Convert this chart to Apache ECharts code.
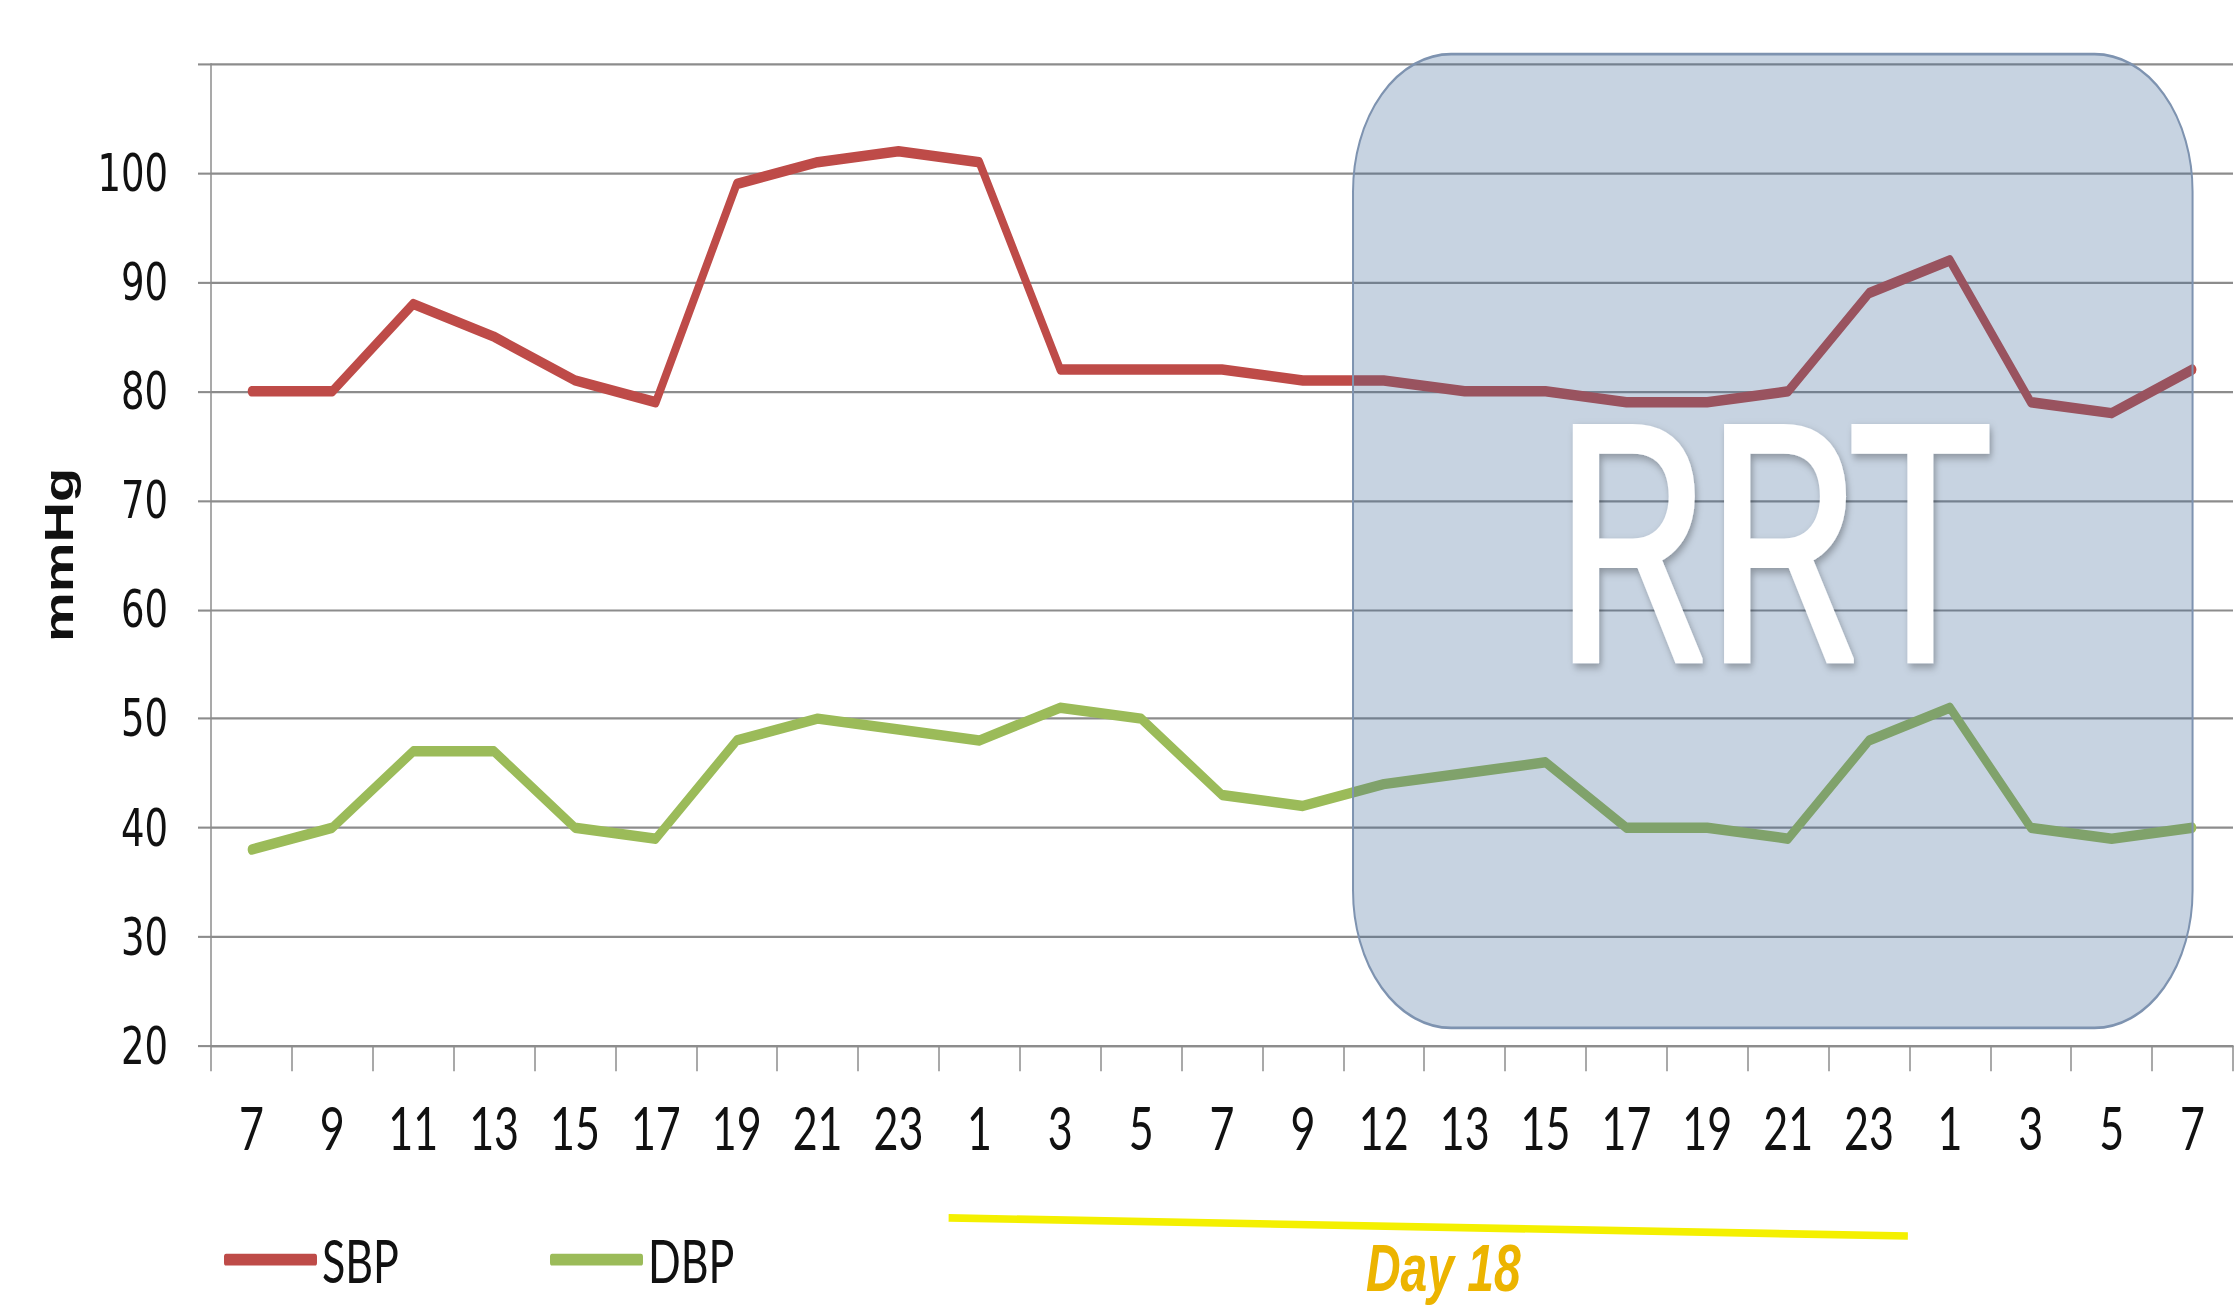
<!DOCTYPE html>
<html>
<head>
<meta charset="utf-8">
<script src="https://cdn.jsdelivr.net/npm/echarts@6/dist/echarts.min.js"></script>
<style>
  html, body { margin: 0; padding: 0; background: #ffffff; overflow: hidden; }
  #stage { width: 2238px; height: 1308px; overflow: hidden; position: relative; }
  /* the chart is laid out on a shorter canvas and stretched vertically */
  #chart { width: 2238px; height: 934px; transform: scaleY(1.4004); transform-origin: 0 0; }
</style>
</head>
<body>
<div id="stage"><div id="chart"></div></div>
<script>
// hourly readings over three calendar days
const hours = ['7', '9', '11', '13', '15', '17', '19', '21', '23', '1', '3', '5', '7',
               '9', '12', '13', '15', '17', '19', '21', '23', '1', '3', '5', '7'];

// systolic blood pressure, mmHg
const sbp = [80, 80, 88, 85, 81, 79, 99, 101, 102, 101, 82, 82, 82,
             81, 81, 80, 80, 79, 79, 80, 89, 92, 79, 78, 82];

// diastolic blood pressure, mmHg
const dbp = [38, 40, 47, 47, 40, 39, 48, 50, 49, 48, 51, 50, 43,
             42, 44, 45, 46, 40, 40, 39, 48, 51, 40, 39, 40];

// value axis range
const yMin = 20;
const yMax = 110;
const yStep = 10;

// renal replacement therapy window (category positions / mmHg)
const rrtFrom = 13.62;
const rrtTo = 24;
const rrtLow = 21.65;
const rrtHigh = 110.9;

// span of day 18 along the time axis (category positions)
const day18From = 8.62;
const day18To = 20.48;

const RED = '#be4b48';
const GREEN = '#9bbb59';
const GRID_GREY = '#8c8c8c';

const chart = echarts.init(document.getElementById('chart'), null, { renderer: 'svg' });

chart.setOption({
  animation: false,
  backgroundColor: '#ffffff',
  grid: { left: 211, right: 5, top: 45.7, bottom: 187.1, containLabel: false },
  legend: [
    {
      data: ['SBP'], left: 219, top: 873, icon: 'roundRect',
      itemWidth: 93, itemHeight: 8.5,
      textStyle: { fontFamily: 'Lato', fontSize: 43, color: '#111111' }
    },
    {
      data: ['DBP'], left: 545, top: 873, icon: 'roundRect',
      itemWidth: 93, itemHeight: 8.5,
      textStyle: { fontFamily: 'Lato', fontSize: 43, color: '#111111' }
    }
  ],
  xAxis: {
    type: 'category',
    data: hours,
    boundaryGap: true,
    axisLine: { show: true, lineStyle: { color: GRID_GREY, width: 1.5 } },
    axisTick: { show: true, interval: 0, length: 18, lineStyle: { color: GRID_GREY, width: 1.5 } },
    axisLabel: {
      interval: 0, margin: 36,
      fontFamily: 'Lato', fontSize: 43, color: '#111111'
    },
    splitLine: { show: false }
  },
  yAxis: {
    type: 'value',
    min: yMin, max: yMax, interval: yStep,
    name: 'mmHg',
    nameLocation: 'middle',
    nameGap: 132,
    nameTextStyle: { fontFamily: 'Liberation Sans', fontWeight: 'bold', fontSize: 40, color: '#111111' },
    axisLine: { show: true, lineStyle: { color: GRID_GREY, width: 1.5 } },
    axisTick: { show: true, length: 13, lineStyle: { color: GRID_GREY, width: 1.5 } },
    axisLabel: {
      margin: 43,
      fontFamily: 'DejaVu Sans', fontSize: 37, color: '#111111',
      formatter: v => (v === yMax ? '' : String(v))
    },
    splitLine: { show: true, lineStyle: { color: GRID_GREY, width: 1.5 } }
  },
  series: [
    {
      name: 'SBP', type: 'line', data: sbp,
      symbol: 'none', z: 3,
      itemStyle: { color: RED },
      lineStyle: { color: RED, width: 7.5, cap: 'round', join: 'round' }
    },
    {
      name: 'DBP', type: 'line', data: dbp,
      symbol: 'none', z: 3,
      itemStyle: { color: GREEN },
      lineStyle: { color: GREEN, width: 7.5, cap: 'round', join: 'round' }
    }
  ]
});

// annotations placed through the axes' own scales
function catPx(p) {
  const i = Math.floor(p);
  const a = chart.convertToPixel({ xAxisIndex: 0 }, i);
  const b = chart.convertToPixel({ xAxisIndex: 0 }, i + 1);
  return a + (p - i) * (b - a);
}
function valPx(v) {
  return chart.convertToPixel({ yAxisIndex: 0 }, v);
}

const bx0 = catPx(rrtFrom);
const bx1 = catPx(rrtTo);
const by0 = valPx(rrtHigh);
const by1 = valPx(rrtLow);
const boxCx = (bx0 + bx1) / 2;
const boxCy = (by0 + by1) / 2;

const dx0 = catPx(day18From);
const dx1 = catPx(day18To);

chart.setOption({
  graphic: [
    {
      type: 'rect', z: 20,
      shape: { x: bx0, y: by0, width: bx1 - bx0, height: by1 - by0, r: 98 },
      style: {
        fill: 'rgba(62,102,152,0.29)',
        stroke: '#7e93b0', lineWidth: 2
      }
    },
    {
      type: 'text', z: 21,
      x: boxCx + 1, y: boxCy + 5,
      scaleX: 1.04,
      style: {
        text: 'RRT',
        fontFamily: 'Roboto', fontSize: 236,
        fill: '#ffffff',
        stroke: '#ffffff', lineWidth: 3,
        align: 'center', verticalAlign: 'middle',
        textShadowBlur: 6, textShadowColor: 'rgba(0,0,0,0.3)',
        textShadowOffsetX: 2, textShadowOffsetY: 3
      }
    },
    {
      type: 'line', z: 21,
      shape: { x1: dx0, y1: 869.7, x2: dx1, y2: 882.6 },
      style: { stroke: '#f4f000', lineWidth: 5.5, lineCap: 'butt' }
    },
    {
      type: 'text', z: 21,
      x: (dx0 + dx1) / 2 + 15, y: 905,
      style: {
        text: 'Day 18',
        fontFamily: 'Liberation Sans', fontWeight: 'bold', fontStyle: 'italic', fontSize: 48,
        fill: '#ecb400',
        align: 'center', verticalAlign: 'middle'
      }
    }
  ]
});
</script>
</body>
</html>
